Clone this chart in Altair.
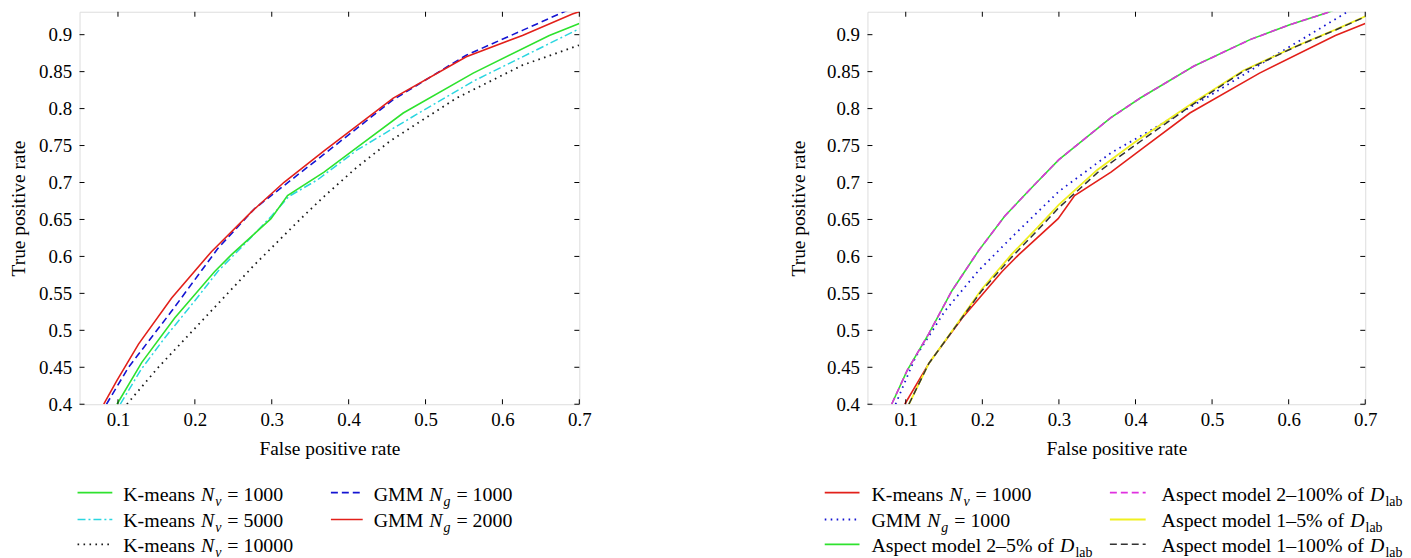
import altair as alt
import pandas as pd

# ---------------- data ----------------
X_TICKS = [0.1, 0.2, 0.3, 0.4, 0.5, 0.6, 0.7]
Y_TICKS = [0.4, 0.45, 0.5, 0.55, 0.6, 0.65, 0.7, 0.75, 0.8, 0.85, 0.9]
X_TITLE = "False positive rate"
Y_TITLE = "True positive rate"

# K-means N_v = 1000 (left green, right red)
km1000_x = [0.0987, 0.131, 0.174, 0.2258, 0.2473, 0.299, 0.3205, 0.368, 0.411, 0.471, 0.562, 0.661, 0.700]
km1000_y = [0.400, 0.4567, 0.517, 0.5796, 0.602, 0.6511, 0.6824, 0.714, 0.7475, 0.794, 0.848, 0.899, 0.915]
# K-means N_v = 5000 (cyan dash-dot)
km5000_x = [0.103, 0.13, 0.161, 0.2, 0.23, 0.265, 0.3, 0.322, 0.36, 0.411, 0.48, 0.562, 0.661, 0.70]
km5000_y = [0.400, 0.447, 0.490, 0.540, 0.580, 0.617, 0.655, 0.681, 0.704, 0.744, 0.787, 0.837, 0.888, 0.908]
# K-means N_v = 10000 (black dotted)
km10000_x = [0.1116, 0.1525, 0.2171, 0.2775, 0.3378, 0.3679, 0.41, 0.4541, 0.5402, 0.6264, 0.6996]
km10000_y = [0.400, 0.450, 0.5216, 0.5886, 0.6511, 0.681, 0.72, 0.7562, 0.8142, 0.8589, 0.8857]
# GMM N_g = 2000 (left red)
gmm2000_x = [0.0815, 0.0987, 0.1267, 0.1698, 0.2215, 0.2732, 0.316, 0.368, 0.458, 0.553, 0.626, 0.691, 0.70]
gmm2000_y = [0.400, 0.4322, 0.4814, 0.5438, 0.6064, 0.660, 0.7003, 0.7428, 0.8142, 0.8701, 0.899, 0.928, 0.931]
# GMM N_g = 1000 (left blue dashed)
gmm1000_x = [0.085, 0.1137, 0.1698, 0.230, 0.2775, 0.368, 0.458, 0.553, 0.626, 0.678, 0.70]
gmm1000_y = [0.400, 0.450, 0.526, 0.6109, 0.6645, 0.7383, 0.812, 0.8723, 0.9058, 0.930, 0.940]
# GMM N_g = 1000 (right blue dotted)
gmm1000r_x = [0.0867, 0.1127, 0.1516, 0.1949, 0.2424, 0.30, 0.3679, 0.4328, 0.4976, 0.5625, 0.6274, 0.6706, 0.70]
gmm1000r_y = [0.400, 0.4639, 0.5267, 0.5806, 0.630, 0.688, 0.740, 0.7784, 0.8178, 0.8596, 0.900, 0.927, 0.945]
# Aspect model 2 (2-5% green, 2-100% magenta dashed)
asp2_x = [0.0816, 0.1019, 0.13, 0.1603, 0.1949, 0.2294, 0.2684, 0.30, 0.3679, 0.4068, 0.4759, 0.5495, 0.6014, 0.649, 0.70]
asp2_y = [0.400, 0.4458, 0.4953, 0.5536, 0.6075, 0.6547, 0.6974, 0.731, 0.7877, 0.8147, 0.8573, 0.8933, 0.9135, 0.9292, 0.950]
# Aspect model 1-5% (yellow)
asp15_x = [0.1041, 0.13, 0.1646, 0.1992, 0.2381, 0.2727, 0.30, 0.35, 0.40, 0.4717, 0.5409, 0.6101, 0.662, 0.7009]
asp15_y = [0.400, 0.4549, 0.5053, 0.5556, 0.6027, 0.640, 0.670, 0.717, 0.755, 0.8054, 0.8515, 0.8847, 0.9072, 0.9252]
# Aspect model 1-100% (black dashed)
asp1100_x = [0.1041, 0.13, 0.1646, 0.1992, 0.2381, 0.2727, 0.30, 0.35, 0.40, 0.4717, 0.5409, 0.6101, 0.662, 0.7009]
asp1100_y = [0.400, 0.4549, 0.5043, 0.5536, 0.5987, 0.636, 0.666, 0.713, 0.751, 0.8034, 0.8505, 0.8842, 0.9067, 0.9247]

# legend label texts (r = roman, i = italic, s = italic subscript, q = roman subscript)
LBL_KM1000 = [("K-means ", "r"), ("N", "i"), ("v", "s"), (" = 1000", "r")]
LBL_KM5000 = [("K-means ", "r"), ("N", "i"), ("v", "s"), (" = 5000", "r")]
LBL_KM10000 = [("K-means ", "r"), ("N", "i"), ("v", "s"), (" = 10000", "r")]
LBL_GMM1000 = [("GMM ", "r"), ("N", "i"), ("g", "s"), (" = 1000", "r")]
LBL_GMM2000 = [("GMM ", "r"), ("N", "i"), ("g", "s"), (" = 2000", "r")]
LBL_A25 = [("Aspect model 2–5% of ", "r"), ("D", "i"), ("lab", "q")]
LBL_A2100 = [("Aspect model 2–100% of ", "r"), ("D", "i"), ("lab", "q")]
LBL_A15 = [("Aspect model 1–5% of ", "r"), ("D", "i"), ("lab", "q")]
LBL_A1100 = [("Aspect model 1–100% of ", "r"), ("D", "i"), ("lab", "q")]

# ---------------- styling ----------------
FONT = "Liberation Serif"
W, H = 503, 395
XDOM = [0.05, 0.7]
YDOM = [0.4, 0.931]
TICK = 5
LEG_FS = 20

GREEN = "#2ee22e"
CYAN = "#2ad6e0"
BLACK = "#1a1a1a"
BLUE = "#1414d2"
RED = "#e2201a"
MAGENTA = "#e030e0"
YELLOW = "#f0f020"
DARK = "#333333"

DASH = [7, 4]
DASHDOT = [8, 3, 2, 3]
DOT = [1.6, 4.4]

ROMAN = {' ': 250, '-': 333, '=': 564, '%': 833, '–': 500, 'A': 722, 'D': 722, 'G': 722,
         'K': 722, 'M': 889, 'N': 722, 'a': 444, 'b': 500, 'c': 444, 'd': 500, 'e': 444,
         'f': 333, 'g': 500, 'l': 278, 'm': 778, 'n': 500, 'o': 500, 'p': 500, 's': 389,
         't': 278, 'v': 500}
ITAL = {'N': 667, 'D': 722, 'v': 444, 'g': 500}


def seg_w(text, style, space=250):
    tab = ITAL if style in ("i", "s") else ROMAN
    fs = LEG_FS * (0.7 if style in ("s", "q") else 1.0)
    w = 0.0
    for c in text:
        w += (space if c == ' ' else tab.get(c, ROMAN.get(c, 500))) * fs / 1000.0
    if style == "i":
        w += 1.0
    return w


def make_x():
    return alt.X("x:Q", scale=alt.Scale(domain=XDOM, nice=False, zero=False),
                 axis=alt.Axis(values=X_TICKS, format=".1f", title=X_TITLE, ticks=False,
                               domain=False, grid=False, labelFlush=False, labelOverlap=False,
                               labelPadding=6, titlePadding=11, labelFontSize=19,
                               titleFontSize=19.5, titleFontWeight="normal", labelFont=FONT,
                               titleFont=FONT, labelColor="black", titleColor="black"))


def make_y(title_pad):
    return alt.Y("y:Q", scale=alt.Scale(domain=YDOM, nice=False, zero=False),
                 axis=alt.Axis(values=Y_TICKS, format=".2~f", title=Y_TITLE, ticks=False,
                               domain=False, grid=False, labelOverlap=False, labelFlush=False,
                               labelPadding=8, titlePadding=title_pad, labelFontSize=19,
                               titleFontSize=19.5, titleFontWeight="normal", labelFont=FONT,
                               titleFont=FONT, labelColor="black", titleColor="black"))


def line(xs, ys, color, dash, width, xe, ye):
    kw = dict(color=color, strokeWidth=width, clip=True)
    if dash:
        kw["strokeDash"] = dash
    return alt.Chart(pd.DataFrame({"x": xs, "y": ys})).mark_line(**kw).encode(x=xe, y=ye)


def frame_ticks(xe, ye, w):
    xt = pd.DataFrame({"x": X_TICKS})
    yt = pd.DataFrame({"y": Y_TICKS})
    r = dict(color="black", strokeWidth=1)
    return [
        alt.Chart(xt).mark_rule(**r).encode(x=xe, y=alt.value(0), y2=alt.value(TICK)),
        alt.Chart(xt).mark_rule(**r).encode(x=xe, y=alt.value(H), y2=alt.value(H - TICK)),
        alt.Chart(yt).mark_rule(**r).encode(y=ye, x=alt.value(0), x2=alt.value(TICK)),
        alt.Chart(yt).mark_rule(**r).encode(y=ye, x=alt.value(w), x2=alt.value(w - TICK)),
    ]


ROWS_Y = [484, 511, 536]


def legend(entries, cols):
    """entries: list of (col, row, color, dash, width, segments); cols: [(sx0, sx1, tx)]"""
    layers = []
    one = pd.DataFrame({"k": [0]})
    for col, row, color, dash, width, segs in entries:
        sx0, sx1, tx = cols[col]
        ry = ROWS_Y[row]
        kw = dict(color=color, strokeWidth=width)
        if dash:
            kw["strokeDash"] = dash
        layers.append(alt.Chart(one).mark_rule(**kw).encode(
            x=alt.value(sx0), x2=alt.value(sx1), y=alt.value(ry)))
        px = tx
        for text, style in segs:
            fs = LEG_FS * (0.7 if style in ("s", "q") else 1.0)
            dy = 5 if style in ("s", "q") else 0
            lead = len(text) - len(text.lstrip(" "))
            px += seg_w(" " * lead, style, space=300)
            body = text.strip(" ")
            mk = dict(align="left", baseline="alphabetic", font=FONT, fontSize=fs,
                      color="black")
            if style in ("i", "s"):
                mk["fontStyle"] = "italic"
            layers.append(alt.Chart(pd.DataFrame({"t": [body]})).mark_text(**mk).encode(
                text="t:N", x=alt.value(px), y=alt.value(ry + 8 + dy)))
            px += seg_w(text.lstrip(" "), style)
    return layers


xl, yl = make_x(), make_y(10)
left_lines = [
    line(km10000_x, km10000_y, BLACK, DOT, 1.8, xl, yl),
    line(km5000_x, km5000_y, CYAN, DASHDOT, 1.5, xl, yl),
    line(km1000_x, km1000_y, GREEN, None, 1.6, xl, yl),
    line(gmm1000_x, gmm1000_y, BLUE, DASH, 1.6, xl, yl),
    line(gmm2000_x, gmm2000_y, RED, None, 1.6, xl, yl),
]
left_leg = legend([
    (0, 0, GREEN, None, 1.6, LBL_KM1000),
    (0, 1, CYAN, DASHDOT, 1.5, LBL_KM5000),
    (0, 2, BLACK, DOT, 1.8, LBL_KM10000),
    (1, 0, BLUE, DASH, 1.6, LBL_GMM1000),
    (1, 1, RED, None, 1.6, LBL_GMM2000),
], cols=[(-2, 33, 44), (253, 285, 296)])

WR = 501
xr, yr = make_x(), make_y(18)
right_lines = [
    line(km1000_x, km1000_y, RED, None, 1.6, xr, yr),
    line(gmm1000r_x, gmm1000r_y, BLUE, DOT, 1.8, xr, yr),
    line(asp2_x, asp2_y, GREEN, None, 1.6, xr, yr),
    line(asp2_x, asp2_y, MAGENTA, DASH, 1.6, xr, yr),
    line(asp15_x, asp15_y, YELLOW, None, 1.8, xr, yr),
    line(asp1100_x, asp1100_y, DARK, DASH, 1.5, xr, yr),
]
right_leg = legend([
    (0, 0, RED, None, 1.6, LBL_KM1000),
    (0, 1, BLUE, DOT, 1.8, LBL_GMM1000),
    (0, 2, GREEN, None, 1.6, LBL_A25),
    (1, 0, MAGENTA, DASH, 1.6, LBL_A2100),
    (1, 1, YELLOW, None, 1.8, LBL_A15),
    (1, 2, DARK, DASH, 1.5, LBL_A1100),
], cols=[(-43, -8, 4), (244, 280, 296)])

left = alt.layer(*left_lines, *frame_ticks(xl, yl, W), *left_leg).properties(width=W, height=H)
right = alt.layer(*right_lines, *frame_ticks(xr, yr, WR), *right_leg).properties(width=WR, height=H)

chart = alt.hconcat(left, right, spacing=197).properties(
    padding={"top": 1, "left": 0, "right": 0, "bottom": 0}
).configure_view(stroke="black", strokeWidth=1).configure(background="white")

chart.save("out.html", embed_options={"renderer": "svg", "actions": False})
